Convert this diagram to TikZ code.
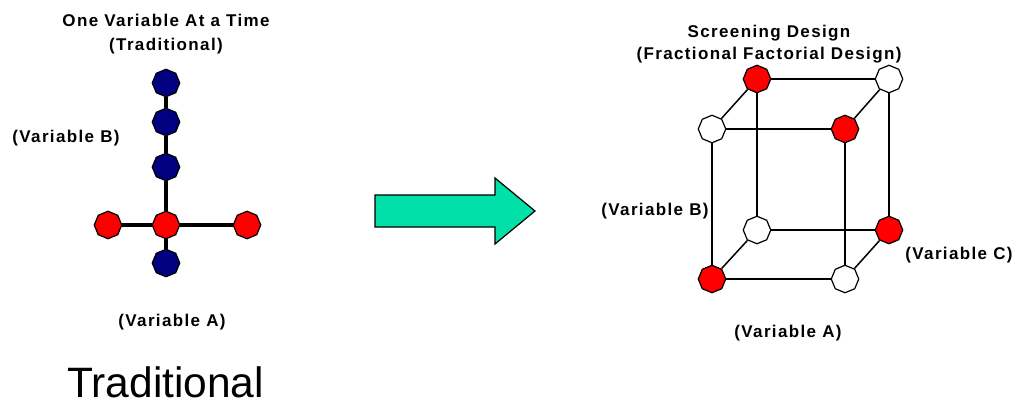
\documentclass[tikz,border=0pt]{standalone}
\usepackage{fontspec}
\setmainfont{Liberation Sans}
\newfontfamily\lblfont[LetterSpace=8]{Liberation Sans}
\usetikzlibrary{shapes.geometric}
\definecolor{navyc}{RGB}{0,0,128}
\definecolor{redc}{RGB}{255,0,0}
\definecolor{arrowc}{RGB}{0,224,168}
\tikzset{
  dot/.style={regular polygon, regular polygon sides=8, shape border rotate=22.5,
    minimum size=27.5pt, inner sep=0pt, draw=black, line width=1.2pt},
  rdot/.style={dot, fill=redc},
  bdot/.style={dot, fill=navyc},
  wdot/.style={dot, fill=white},
  lbl/.style={anchor=base, inner sep=0pt, font=\lblfont\bfseries\fontsize{17}{20}\selectfont},
  thickln/.style={line width=3.2pt, black},
  cubeln/.style={line width=1.5pt, black},
}
\begin{document}
\begin{tikzpicture}[x=1pt, y=-1pt]
\useasboundingbox (0,0) rectangle (1014,405);

% titles
\node[lbl] (t1a) at (166,26) {One Variable At a Time};
\node[lbl] (t1b) at (166,50) {(Traditional)};
\node[lbl] (t2a) at (769,37) {Screening Design};
\node[lbl] (t2b) at (769,59) {(Fractional Factorial Design)};

% left labels
\node[lbl] (lb) at (66,142) {(Variable B)};
\node[lbl] (la) at (172,326) {(Variable A)};
% right labels
\node[lbl] (rb) at (655,215) {(Variable B)};
\node[lbl] (rc) at (959,259) {(Variable C)};
\node[lbl] (ra) at (788,337) {(Variable A)};

% big caption
\node[anchor=base west, inner sep=0pt, font=\fontsize{42.5}{48}\selectfont] (trad) at (67,397) {Traditional};

% left diagram
\node[bdot] (b1) at (166,83) {};
\node[bdot] (b2) at (166,122) {};
\node[bdot] (b3) at (166,167) {};
\node[rdot] (c)  at (166,225) {};
\node[bdot] (b4) at (166,263) {};
\node[rdot] (l)  at (108,225) {};
\node[rdot] (r)  at (247,225) {};
\draw[thickln] (b1) -- (b2);
\draw[thickln] (b2) -- (b3);
\draw[thickln] (b3) -- (c);
\draw[thickln] (c) -- (b4);
\draw[thickln] (l) -- (c);
\draw[thickln] (c) -- (r);

% arrow
\draw[fill=arrowc, line width=1.2pt, line join=miter]
  (375,195) -- (495,195) -- (495,178) -- (535,211) -- (495,244) -- (495,227) -- (375,227) -- cycle;

% cube
\node[rdot] (btl) at (757,79) {};
\node[wdot] (btr) at (889,79) {};
\node[wdot] (ftl) at (712,129) {};
\node[rdot] (ftr) at (845,129) {};
\node[wdot] (bbl) at (757,230) {};
\node[rdot] (bbr) at (889,230) {};
\node[rdot] (fbl) at (712,279) {};
\node[wdot] (fbr) at (845,279) {};
\draw[cubeln] (ftl) -- (ftr);
\draw[cubeln] (ftr) -- (fbr);
\draw[cubeln] (fbr) -- (fbl);
\draw[cubeln] (fbl) -- (ftl);
\draw[cubeln] (btl) -- (btr);
\draw[cubeln] (btr) -- (bbr);
\draw[cubeln] (bbr) -- (bbl);
\draw[cubeln] (bbl) -- (btl);
\draw[cubeln] (ftl) -- (btl);
\draw[cubeln] (ftr) -- (btr);
\draw[cubeln] (fbr) -- (bbr);
\draw[cubeln] (fbl) -- (bbl);
\end{tikzpicture}
\end{document}
